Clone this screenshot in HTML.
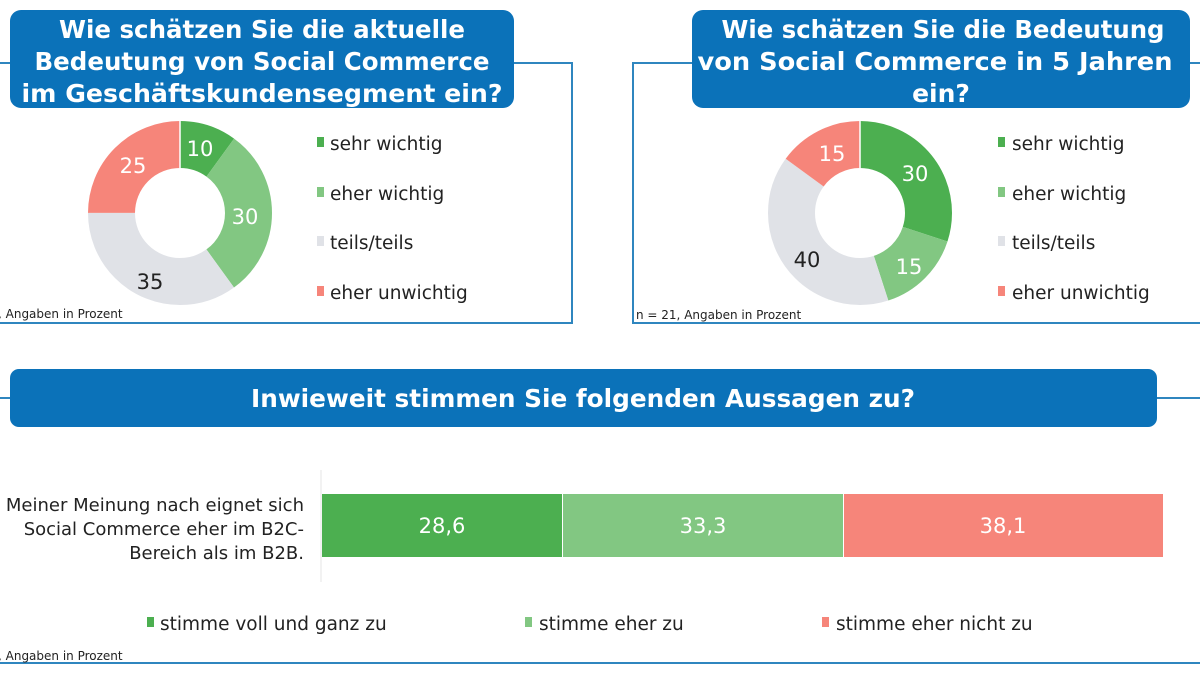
<!DOCTYPE html>
<html><head><meta charset="utf-8"><style>
html,body{margin:0;padding:0;background:#fff;}
svg{display:block;}
text{font-family:"DejaVu Sans","Liberation Sans",sans-serif;}
.t{font-weight:bold;fill:#fff;font-size:25px;}
.lg{font-size:18.5px;fill:#222;}
.v{font-size:21px;fill:#fff;}
.fn{font-size:12px;fill:#222;}
</style></head><body>
<svg width="1200" height="677" viewBox="0 0 1200 677">
<g fill="none" stroke="#2f86bf" stroke-width="2">
<polyline points="0,63 572,63 572,323 0,323"/>
<polyline points="1200,63 633,63 633,323 1200,323"/>
<line x1="0" y1="398" x2="12" y2="398"/>
<line x1="1155" y1="398" x2="1200" y2="398"/>
<line x1="0" y1="663" x2="1200" y2="663"/>
</g>
<rect x="10" y="10" width="504" height="98" rx="11" fill="#0b72b9"/>
<rect x="692" y="10" width="498" height="98" rx="11" fill="#0b72b9"/>
<rect x="10" y="369" width="1147" height="58" rx="9" fill="#0b72b9"/>
<text class="t" x="262" y="38" text-anchor="middle" textLength="406" lengthAdjust="spacingAndGlyphs">Wie schätzen Sie die aktuelle</text>
<text class="t" x="262" y="70" text-anchor="middle" textLength="455" lengthAdjust="spacingAndGlyphs">Bedeutung von Social Commerce</text>
<text class="t" x="262" y="102" text-anchor="middle" textLength="481" lengthAdjust="spacingAndGlyphs">im Geschäftskundensegment ein?</text>
<text class="t" x="943" y="38" text-anchor="middle" textLength="443" lengthAdjust="spacingAndGlyphs">Wie schätzen Sie die Bedeutung</text>
<text class="t" x="935" y="70" text-anchor="middle" textLength="475" lengthAdjust="spacingAndGlyphs">von Social Commerce in 5 Jahren</text>
<text class="t" x="941" y="102" text-anchor="middle">ein?</text>
<text class="t" x="583" y="407" text-anchor="middle" textLength="664" lengthAdjust="spacingAndGlyphs">Inwieweit stimmen Sie folgenden Aussagen zu?</text>

<g transform="translate(180,213) rotate(-90)" fill="none" stroke-width="47">
<circle r="68.5" stroke="#4caf50" stroke-dasharray="43.04 430.4"/>
<circle r="68.5" stroke="#82c782" stroke-dasharray="0 43.04 129.12 430.4"/>
<circle r="68.5" stroke="#e0e2e7" stroke-dasharray="0 172.16 150.64 430.4"/>
<circle r="68.5" stroke="#f6857a" stroke-dasharray="0 322.8 107.6 430.4"/>
</g>
<g transform="translate(860,213) rotate(-90)" fill="none" stroke-width="47">
<circle r="68.5" stroke="#4caf50" stroke-dasharray="129.12 430.4"/>
<circle r="68.5" stroke="#82c782" stroke-dasharray="0 129.12 64.56 430.4"/>
<circle r="68.5" stroke="#e0e2e7" stroke-dasharray="0 193.68 172.16 430.4"/>
<circle r="68.5" stroke="#f6857a" stroke-dasharray="0 365.84 64.56 430.4"/>
</g>
<g stroke="#fff" stroke-width="1.5">
<line x1="180" y1="119" x2="180" y2="168"/>
<line x1="860" y1="119" x2="860" y2="168"/>
</g>
<g class="v" text-anchor="middle">
<text x="200" y="156">10</text><text x="245" y="224">30</text>
<text x="150" y="289" style="fill:#222">35</text><text x="133" y="173">25</text>
<text x="915" y="181">30</text><text x="909" y="274">15</text>
<text x="807" y="267" style="fill:#222">40</text><text x="832" y="161">15</text>
</g>
<g>
<rect x="317" y="137" width="7" height="10" fill="#4caf50"/><text class="lg" x="330" y="150">sehr wichtig</text>
<rect x="317" y="187" width="7" height="10" fill="#82c782"/><text class="lg" x="330" y="200">eher wichtig</text>
<rect x="317" y="236" width="7" height="10" fill="#e0e2e7"/><text class="lg" x="330" y="249">teils/teils</text>
<rect x="317" y="286" width="7" height="10" fill="#f6857a"/><text class="lg" x="330" y="299">eher unwichtig</text>
<rect x="998" y="137" width="7" height="10" fill="#4caf50"/><text class="lg" x="1012" y="150">sehr wichtig</text>
<rect x="998" y="187" width="7" height="10" fill="#82c782"/><text class="lg" x="1012" y="200">eher wichtig</text>
<rect x="998" y="236" width="7" height="10" fill="#e0e2e7"/><text class="lg" x="1012" y="249">teils/teils</text>
<rect x="998" y="286" width="7" height="10" fill="#f6857a"/><text class="lg" x="1012" y="299">eher unwichtig</text>
</g>
<text class="fn" x="-2" y="318">, Angaben in Prozent</text>
<text class="fn" x="636" y="319">n = 21, Angaben in Prozent</text>

<line x1="321" y1="470" x2="321" y2="582" stroke="#e4e4e4" stroke-width="1"/>
<rect x="322" y="494" width="240" height="63" fill="#4caf50"/>
<rect x="563" y="494" width="280" height="63" fill="#82c782"/>
<rect x="844" y="494" width="319" height="63" fill="#f6857a"/>
<g class="v" text-anchor="middle">
<text x="442" y="533">28,6</text><text x="703" y="533">33,3</text><text x="1003" y="533">38,1</text>
</g>
<g class="lg" text-anchor="end" style="font-size:18px">
<text x="304" y="511">Meiner Meinung nach eignet sich</text>
<text x="304" y="535">Social Commerce eher im B2C-</text>
<text x="304" y="559">Bereich als im B2B.</text>
</g>
<rect x="147" y="617" width="7" height="10" fill="#4caf50"/><text class="lg" x="160" y="630">stimme voll und ganz zu</text>
<rect x="525" y="617" width="7" height="10" fill="#82c782"/><text class="lg" x="539" y="630">stimme eher zu</text>
<rect x="822" y="617" width="7" height="10" fill="#f6857a"/><text class="lg" x="836" y="630">stimme eher nicht zu</text>
<text class="fn" x="-2" y="660">, Angaben in Prozent</text>
</svg>
</body></html>
